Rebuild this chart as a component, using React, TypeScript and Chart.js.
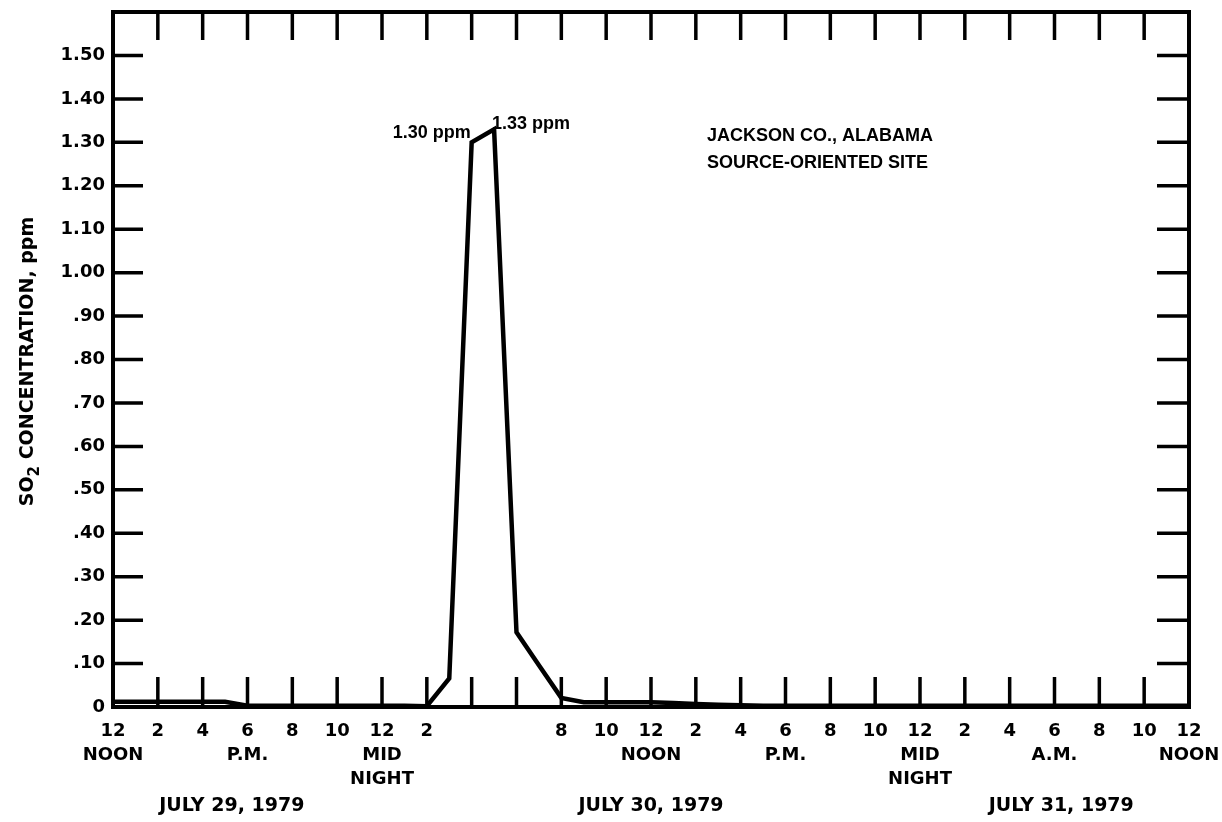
import { useEffect, useRef } from 'react';
import { Chart, registerables } from 'chart.js';

Chart.register(...registerables);

// Hours elapsed since 12 NOON, July 29, 1979
const hours = [
  0, 1, 2, 3, 4, 5, 6, 7, 8, 9, 10, 11, 12, 13, 14, 15, 16, 17, 18, 19, 20, 21, 22, 23, 24,
  25, 26, 27, 28, 29, 30, 31, 32, 33, 34, 35, 36, 37, 38, 39, 40, 41, 42, 43, 44, 45, 46, 47, 48,
];
// SO2 concentration, ppm
const so2 = [
  0.012, 0.012, 0.012, 0.012, 0.012, 0.012, 0.003, 0.003, 0.003, 0.003, 0.003, 0.003, 0.003,
  0.003, 0.002, 0.066, 1.3, 1.33, 0.172, 0.096, 0.021, 0.011, 0.011, 0.011, 0.011,
  0.009, 0.007, 0.005, 0.004, 0.003, 0.003, 0.003, 0.003, 0.003, 0.003, 0.003, 0.003,
  0.003, 0.003, 0.003, 0.003, 0.003, 0.003, 0.003, 0.003, 0.003, 0.003, 0.003, 0.003,
];

const xTickHours = [0, 2, 4, 6, 8, 10, 12, 14, 16, 18, 20, 22, 24, 26, 28, 30, 32, 34, 36, 38, 40, 42, 44, 46, 48];
const hourLabels = ['12', '2', '4', '6', '8', '10', '12', '2', '', '', '8', '10', '12', '2', '4', '6', '8', '10', '12', '2', '4', '6', '8', '10', '12'];
const periodLabels = ['NOON', '', '', 'P.M.', '', '', 'MID', '', '', '', '', '', 'NOON', '', '', 'P.M.', '', '', 'MID', '', '', 'A.M.', '', '', 'NOON'];
const periodLabels2 = ['', '', '', '', '', '', 'NIGHT', '', '', '', '', '', '', '', '', '', '', '', 'NIGHT', '', '', '', '', '', ''];

const yTickValues = [0, 0.1, 0.2, 0.3, 0.4, 0.5, 0.6, 0.7, 0.8, 0.9, 1.0, 1.1, 1.2, 1.3, 1.4, 1.5, 1.6];
const yTickLabels = ['0', '.10', '.20', '.30', '.40', '.50', '.60', '.70', '.80', '.90', '1.00', '1.10', '1.20', '1.30', '1.40', '1.50', ''];

const dateLabels = ['JULY 29, 1979', 'JULY 30, 1979', 'JULY 31, 1979'];
const dateHours = [5.3, 24, 42.3];

const peakHours = [16, 17];
const peakTexts = ['1.30 ppm', '1.33 ppm'];

const siteLines = ['JACKSON CO., ALABAMA', 'SOURCE-ORIENTED SITE'];
const siteHour = 26.5;
const siteValue = 1.315;

const NOTE_FONT = "bold 18px 'Liberation Sans'";

const framePlugin = {
  id: 'framePlugin',
  afterDraw(chart: any) {
    const { ctx, chartArea } = chart;
    const xs = chart.scales.x;
    const ys = chart.scales.y;
    const { left, right, top, bottom } = chartArea;
    ctx.save();
    ctx.strokeStyle = '#000';
    ctx.lineCap = 'butt';
    // inward tick marks
    ctx.lineWidth = 3.5;
    ctx.beginPath();
    xTickHours.forEach((h) => {
      if (h === xTickHours[0] || h === xTickHours[xTickHours.length - 1]) return;
      const px = xs.getPixelForValue(h);
      ctx.moveTo(px, bottom);
      ctx.lineTo(px, bottom - 30);
      ctx.moveTo(px, top);
      ctx.lineTo(px, top + 28);
    });
    yTickValues.forEach((v) => {
      if (v === yTickValues[0] || v === yTickValues[yTickValues.length - 1]) return;
      const py = ys.getPixelForValue(v);
      ctx.moveTo(left, py);
      ctx.lineTo(left + 30, py);
      ctx.moveTo(right, py);
      ctx.lineTo(right - 32, py);
    });
    ctx.stroke();
    // frame
    ctx.lineWidth = 4;
    ctx.lineJoin = 'miter';
    ctx.strokeRect(left, top, right - left, bottom - top);

    ctx.fillStyle = '#000';
    // peak annotations
    ctx.font = NOTE_FONT;
    ctx.textBaseline = 'middle';
    const i0 = hours.indexOf(peakHours[0]);
    const i1 = hours.indexOf(peakHours[1]);
    ctx.textAlign = 'right';
    ctx.fillText(peakTexts[0], xs.getPixelForValue(peakHours[0]) - 1, ys.getPixelForValue(so2[i0]) - 9);
    ctx.textAlign = 'left';
    ctx.fillText(peakTexts[1], xs.getPixelForValue(peakHours[1]) - 2, ys.getPixelForValue(so2[i1]) - 5);

    // site label
    const sx = xs.getPixelForValue(siteHour);
    const sy = ys.getPixelForValue(siteValue);
    siteLines.forEach((t, i) => ctx.fillText(t, sx, sy + i * 27));

    // date labels
    ctx.font = "bold 19px 'DejaVu Sans'";
    ctx.textAlign = 'center';
    dateLabels.forEach((t, i) => ctx.fillText(t, xs.getPixelForValue(dateHours[i]), bottom + 99));

    // y axis title with subscript
    ctx.translate(33, (top + bottom) / 2 + 2);
    ctx.rotate(-Math.PI / 2);
    ctx.textBaseline = 'alphabetic';
    ctx.textAlign = 'left';
    const mainFont = "bold 19px 'DejaVu Sans'";
    const subFont = "bold 15px 'DejaVu Sans'";
    ctx.font = mainFont;
    const p1 = 'SO';
    const p3 = ' CONCENTRATION, ppm';
    const w1 = ctx.measureText(p1).width;
    const w3 = ctx.measureText(p3).width;
    ctx.font = subFont;
    const w2 = ctx.measureText('2').width;
    const total = w1 + w2 + w3;
    let cx = -total / 2;
    ctx.font = mainFont;
    ctx.fillText(p1, cx, 0);
    cx += w1;
    ctx.font = subFont;
    ctx.fillText('2', cx, 6);
    cx += w2;
    ctx.font = mainFont;
    ctx.fillText(p3, cx, 0);
    ctx.restore();
  },
};

export default function App() {
  const ref = useRef<HTMLCanvasElement | null>(null);
  useEffect(() => {
    if (!ref.current) return;
    const chart = new Chart(ref.current, {
      type: 'line',
      data: {
        datasets: [
          {
            data: hours.map((h, i) => ({ x: h, y: so2[i] })),
            borderColor: '#000',
            borderWidth: 4.5,
            pointRadius: 0,
            tension: 0,
            fill: false,
            borderJoinStyle: 'miter',
          },
        ],
      },
      options: {
        responsive: false,
        animation: false,
        layout: { padding: { left: 0, right: 33, top: 12, bottom: 0 } },
        plugins: { legend: { display: false }, tooltip: { enabled: false }, title: { display: false } },
        scales: {
          x: {
            type: 'linear',
            min: 0,
            max: 48,
            grid: { display: false, drawTicks: false },
            border: { display: false },
            afterBuildTicks: (s: any) => {
              s.ticks = xTickHours.map((v) => ({ value: v }));
            },
            afterFit: (s: any) => {
              s.height = 115;
              s.paddingLeft = 0;
              s.paddingRight = 0;
            },
            ticks: {
              autoSkip: false,
              maxRotation: 0,
              minRotation: 0,
              padding: 12,
              color: '#000',
              font: { family: 'DejaVu Sans', size: 18, weight: 'bold', lineHeight: 1.35 },
              callback: (value: any) => {
                const i = xTickHours.indexOf(Number(value));
                if (i < 0) return '';
                return [hourLabels[i], periodLabels[i], periodLabels2[i]].filter((t) => t !== '');
              },
            },
          },
          y: {
            type: 'linear',
            min: 0,
            max: 1.6,
            grid: { display: false, drawTicks: false },
            border: { display: false },
            afterBuildTicks: (s: any) => {
              s.ticks = yTickValues.map((v) => ({ value: v }));
            },
            afterFit: (s: any) => {
              s.width = 113;
              s.paddingTop = 0;
              s.paddingBottom = 0;
            },
            ticks: {
              padding: 8,
              color: '#000',
              font: { family: 'DejaVu Sans', size: 18, weight: 'bold' },
              callback: (value: any) => {
                const i = Math.round(Number(value) * 10);
                return yTickLabels[i] ?? '';
              },
            },
          },
        },
      },
      plugins: [framePlugin],
    } as any);
    return () => chart.destroy();
  }, []);
  return (
    <div style={{ position: 'absolute', left: 0, top: 0, width: 1222, height: 822, background: '#fff' }}>
      <canvas ref={ref} width={1222} height={822} style={{ display: 'block' }} />
    </div>
  );
}
